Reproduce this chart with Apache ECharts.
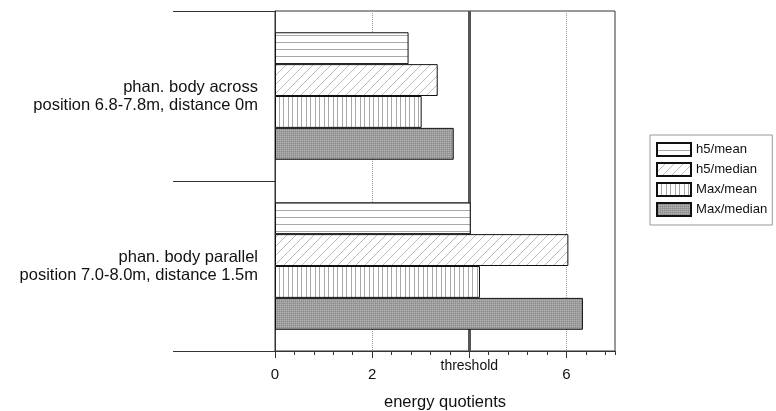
<!DOCTYPE html>
<html>
<head>
<meta charset="utf-8">
<script src="https://cdn.jsdelivr.net/npm/echarts@6/dist/echarts.min.js"></script>
<style>
  html, body { margin: 0; padding: 0; background: #fff; }
  #chart { width: 776px; height: 411px; }
</style>
</head>
<body>
<div id="chart"></div>
<script>
// Measurement sites (top to bottom)
const categories = [
  'phan. body across\nposition 6.8-7.8m, distance 0m',
  'phan. body parallel\nposition 7.0-8.0m, distance 1.5m'
];
// Energy quotients per site
const h5Mean    = [2.75, 4.03];
const h5Median  = [3.35, 6.04];
const maxMean   = [3.02, 4.22];
const maxMedian = [3.68, 6.34];
const seriesNames = ['h5/mean', 'h5/median', 'Max/mean', 'Max/median'];
// Axis settings
const xLabelValues = [0, 2, 6];
const xMajorTicks = [0, 2, 4, 6];
const thresholdValue = 4;
const thresholdLabel = 'threshold';
const xAxisName = 'energy quotients';

// Hatch fills drawn on small tiles
function tile(w, h, draw) {
  const c = document.createElement('canvas');
  c.width = w; c.height = h;
  const g = c.getContext('2d');
  g.fillStyle = '#fff';
  g.fillRect(0, 0, w, h);
  draw(g, w, h);
  return { image: c, repeat: 'repeat' };
}
const fillHLines = tile(8, 7, (g, w) => {
  g.fillStyle = '#a8a8a8';
  g.fillRect(0, 0, w, 1);
});
const fillDiag = tile(9, 9, (g, w, h) => {
  g.strokeStyle = '#b4b4b4';
  g.lineWidth = 0.9;
  g.beginPath();
  g.moveTo(-1, h + 1); g.lineTo(w + 1, -1);
  g.moveTo(-1 - w, h + 1); g.lineTo(1, -1);
  g.moveTo(w - 1, 2 * h + 1); g.lineTo(2 * w + 1, h - 1);
  g.stroke();
});
const fillVLines = tile(9, 4, (g, w, h) => {
  g.fillStyle = '#a8a8a8';
  g.fillRect(0, 0, 1, h);
  g.fillRect(4, 0, 1, h);
});
const fillStipple = tile(2, 2, (g) => {
  g.fillStyle = '#9c9c9c';
  g.fillRect(0, 0, 2, 2);
  g.fillStyle = '#b2b2b2';
  g.fillRect(0, 0, 1, 1);
  g.fillStyle = '#8e8e8e';
  g.fillRect(1, 1, 1, 1);
});

const fills = [fillHLines, fillDiag, fillVLines, fillStipple];
const values = [h5Mean, h5Median, maxMean, maxMedian];
const FONT = '"Liberation Sans", Arial, sans-serif';

const series = seriesNames.map((name, i) => ({
  name: name,
  type: 'bar',
  data: values[i],
  barGap: '0%',
  barCategoryGap: '25%',
  itemStyle: { color: fills[i], borderColor: '#111', borderWidth: 1 },
  emphasis: { disabled: true }
}));
series[0].markLine = {
  silent: true,
  symbol: 'none',
  z: 1,
  data: [{ xAxis: thresholdValue }],
  lineStyle: { color: '#555', width: 3, type: 'solid' },
  label: {
    show: true,
    position: 'end',
    formatter: thresholdLabel,
    fontFamily: FONT,
    fontSize: 14,
    color: '#111',
    distance: 8
  }
};

const chart = echarts.init(document.getElementById('chart'), null, { renderer: 'canvas' });
chart.setOption({
  animation: false,
  backgroundColor: '#fff',
  textStyle: { fontFamily: FONT },
  grid: {
    left: 275, width: 340, top: 11, height: 340,
    outerBoundsMode: 'none',
    containLabel: false,
    show: true, borderColor: '#333', borderWidth: 1, backgroundColor: 'transparent'
  },
  legend: {
    orient: 'vertical',
    left: 650, top: 135,
    icon: 'rect',
    itemWidth: 34, itemHeight: 13, itemGap: 5,
    padding: [7, 5, 8, 6],
    borderColor: '#999', borderWidth: 1,
    textStyle: { fontFamily: FONT, fontSize: 13.1, color: '#111' },
    selectedMode: false,
    data: seriesNames
  },
  xAxis: [{
    type: 'value',
    min: 0, max: 7, interval: 2,
    name: xAxisName,
    nameLocation: 'middle',
    nameGap: 43,
    nameTextStyle: { fontFamily: FONT, fontSize: 16.5, color: '#111' },
    axisLine: { show: true, lineStyle: { color: '#333' } },
    axisTick: { show: true, length: 7, lineStyle: { color: '#333' }, customValues: xMajorTicks },
    axisLabel: {
      customValues: xLabelValues,
      margin: 16,
      fontFamily: FONT, fontSize: 15, color: '#111'
    },
    splitLine: { show: true, lineStyle: { color: '#999', type: 'dotted', width: 1 } }
  }, {
    // minor tick marks every 0.4
    type: 'value',
    position: 'bottom',
    min: 0, max: 7, interval: 0.4,
    axisLine: { show: false },
    axisTick: { show: true, length: 4, lineStyle: { color: '#333' } },
    axisLabel: { show: false },
    splitLine: { show: false }
  }],
  yAxis: {
    type: 'category',
    inverse: true,
    data: categories,
    axisLine: { show: true, lineStyle: { color: '#333' } },
    axisTick: { show: true, length: 102, lineStyle: { color: '#333' } },
    axisLabel: {
      margin: 17,
      fontFamily: FONT, fontSize: 16.5, lineHeight: 18, color: '#111', align: 'right'
    },
    splitLine: { show: false }
  },
  series: series
});
</script>
</body>
</html>
